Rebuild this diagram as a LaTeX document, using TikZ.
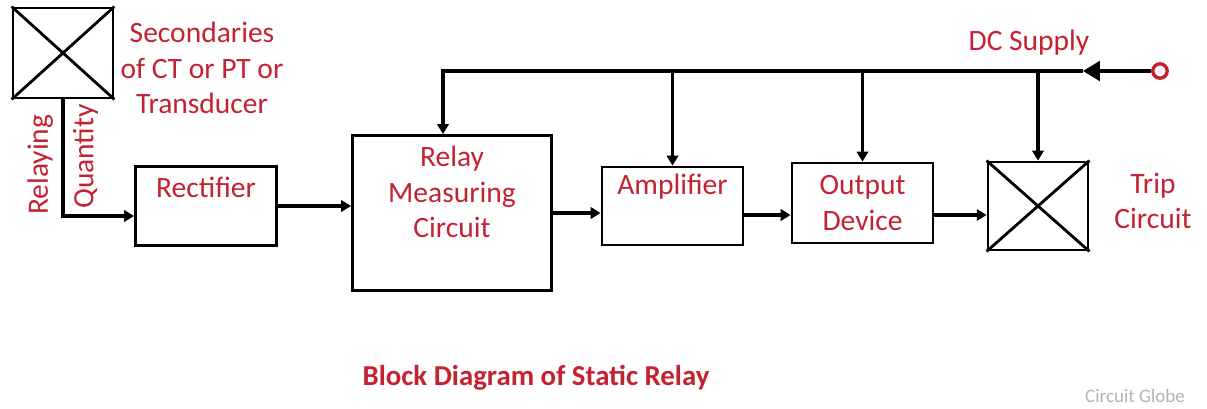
\documentclass[tikz,border=0pt]{standalone}
\usepackage{fontspec}
\setmainfont{Carlito}
\usetikzlibrary{arrows.meta}
\definecolor{relayred}{RGB}{196,34,48}
\definecolor{globegray}{RGB}{178,178,178}

\begin{document}
\begin{tikzpicture}[
  x=0.025cm, y=-0.025cm,
  font=\fontsize{21}{25}\selectfont,
  block/.style={rectangle, draw, line width=2pt, inner sep=0pt},
  lbl/.style={text=relayred, align=center},
  flow/.style={-{Triangle[length=7pt, width=8pt]}, line width=2.2pt},
  supply/.style={-{Triangle[length=12pt, width=14pt]}, line width=2.2pt}
]
\useasboundingbox (0,0) rectangle (1207,408);

\node (src)  [block, minimum width=2.5cm, minimum height=2.25cm] at (63,53) {};
\node (rect) [block, minimum width=3.525cm, minimum height=1.975cm,
              label={[lbl, yshift=0.475cm]center:Rectifier}] at (206,206) {};
\node (rmc)  [block, minimum width=4.975cm, minimum height=3.875cm,
              label={[lbl, yshift=0.525cm]center:Relay\\Measuring\\Circuit}] at (452,213) {};
\node (amp)  [block, minimum width=3.525cm, minimum height=1.95cm,
              label={[lbl, yshift=0.475cm]center:Amplifier}] at (672.5,206) {};
\node (out)  [block, minimum width=3.525cm, minimum height=2cm,
              label={[lbl]center:Output\\Device}] at (862.5,203) {};
\node (trip) [block, minimum width=2.5cm, minimum height=2.2cm] at (1038,206) {};
\node (dcin) [circle, draw=relayred, line width=2.4pt, minimum size=0.36cm, inner sep=0pt] at (1160,71) {};

% crosses
\foreach \n in {src, trip} {
  \draw[line width=2pt] (\n.north west) -- (\n.south east);
  \draw[line width=2pt] (\n.south west) -- (\n.north east);
}

\node (sec)   [lbl] at (202,68) {Secondaries\\of CT or PT or\\Transducer};
\node (dclbl) [lbl] at (1029,43) {DC Supply};
\node (tcl)   [lbl] at (1153,201) {Trip\\Circuit};
\node (title) [text=relayred, font=\fontsize{20.5}{24}\selectfont\bfseries] at (536,378) {Block Diagram of Static Relay};
\node (globe) [text=globegray, font=\fontsize{13.5}{16}\selectfont] at (1135,396) {Circuit Globe};

\coordinate (tip) at (1083,71);

\draw [flow] (src.south) |- node[pos=0.28, rotate=90, anchor=south, inner sep=6pt, lbl]{Relaying}
                            node[pos=0.245, rotate=90, anchor=north, inner sep=6pt, lbl]{Quantity}
             ([yshift=-0.25cm]rect.west);
\draw [flow] (rect.east) -- (rect.east -| rmc.west);
\draw [flow] (rmc.east) -- (rmc.east -| amp.west);
\draw [flow] ([yshift=-0.225cm]amp.east) -- ([yshift=-0.225cm]amp.east -| out.west);
\draw [flow] ([yshift=-0.3cm]out.east) -- ([yshift=-0.3cm]out.east -| trip.west);

\draw [supply] (dcin.west) -- (tip);
\draw [flow] (tip) -| ([xshift=-0.225cm]rmc.north);
\foreach \n in {amp, out, trip}
  \draw [flow] (\n.north |- tip) -- (\n.north);
\end{tikzpicture}
\end{document}
